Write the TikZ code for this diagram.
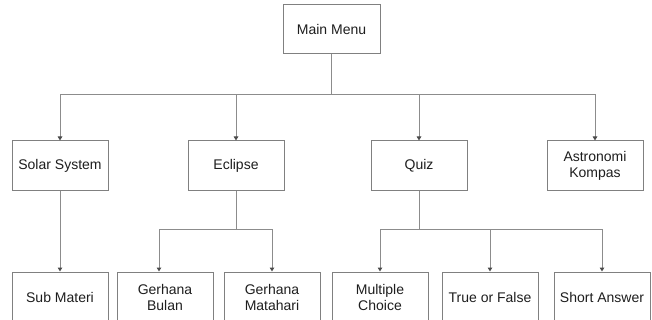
\documentclass[tikz,border=0pt]{standalone}
\usepackage{fontspec}
\setmainfont{Liberation Sans}
\usetikzlibrary{arrows.meta, positioning}
\definecolor{boxgray}{HTML}{808080}
\definecolor{linegray}{HTML}{8C8C8C}
\definecolor{inkgray}{HTML}{1E1E1E}

\begin{document}
\begin{tikzpicture}[x=1pt, y=-1pt,
  menubox/.style={draw=boxgray, fill=white, line width=1pt, minimum width=96pt,
    minimum height=50pt, align=center, text=inkgray, inner sep=2pt,
    font=\fontsize{14}{16}\selectfont},
  branch/.style={draw=linegray, line width=1pt},
  link/.style={branch, -{Triangle[length=4pt, width=4.5pt, color=inkgray!80]}}]
  \useasboundingbox (0,0) rectangle (652,320);
  \clip (0,0) rectangle (652,320);
  \def\rowa{166}
  \def\rowb{297}

  % top level
  \node[menubox, minimum width=97pt, minimum height=49pt] (main) at (331.5,29.5) {Main Menu};

  % second level
  \node[menubox] (solar) at (60,\rowa) {Solar System};
  \node[menubox] (eclipse) at (236,\rowa) {Eclipse};
  \node[menubox] (quiz) at (419,\rowa) {Quiz};
  \node[menubox] (astro) at (595,\rowa) {Astronomi\\Kompas};

  % third level
  \node[menubox] (submateri) at (60,\rowb) {Sub Materi};
  \node[menubox] (bulan) at (165,\rowb) {Gerhana\\Bulan};
  \node[menubox] (matahari) at (272,\rowb) {Gerhana\\Matahari};
  \node[menubox] (multi) at (380,\rowb) {Multiple\\Choice};
  \node[menubox] (truefalse) at (490,\rowb) {True or False};
  \node[menubox] (short) at (602,\rowb) {Short Answer};

  % connectors
  \draw[branch] (main.south) -- ++(0,40) coordinate (hubmain);
  \foreach \n in {solar, eclipse, quiz, astro}
    \draw[link] (hubmain) -| (\n.north);

  \draw[link] (solar.south) -- (submateri.north);

  \draw[branch] (eclipse.south) -- ++(0,38) coordinate (hubeclipse);
  \draw[link] (hubeclipse) -| ([xshift=-6pt]bulan.north);
  \draw[link] (hubeclipse) -| (matahari.north);

  \draw[branch] (quiz.south) -- ++(0,38) coordinate (hubquiz);
  \foreach \n in {multi, truefalse, short}
    \draw[link] (hubquiz) -| (\n.north);
\end{tikzpicture}
\end{document}
